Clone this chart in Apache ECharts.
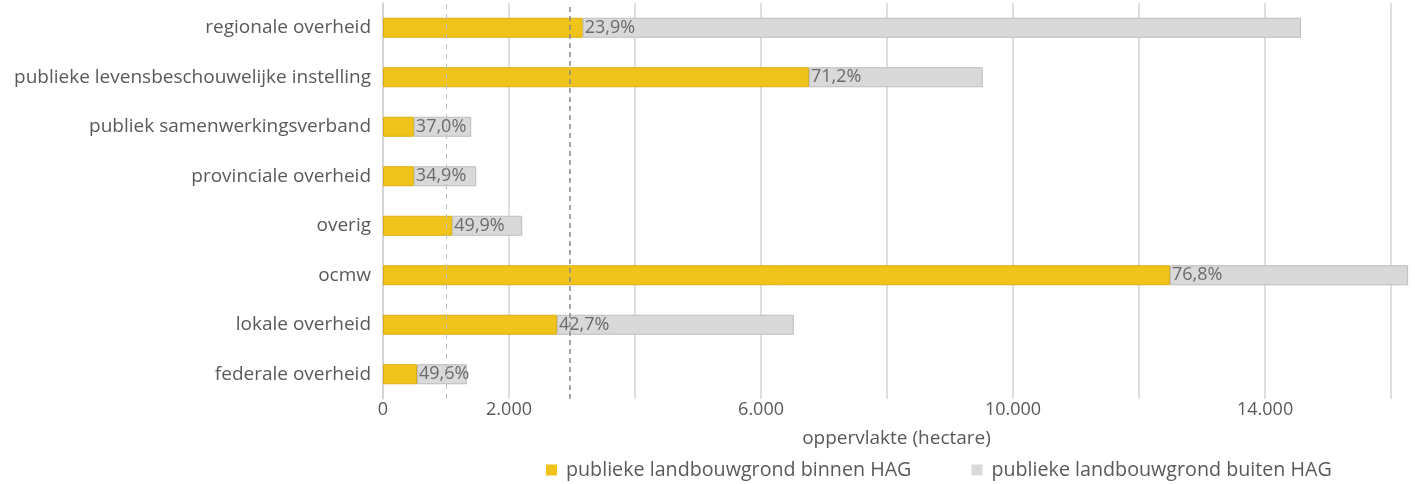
<!DOCTYPE html>
<html><head><meta charset="utf-8">
<script src="https://cdn.jsdelivr.net/npm/echarts@6/dist/echarts.min.js"></script>
<style>html,body{margin:0;padding:0;background:#fff}#c{width:1415px;height:484px}</style>
</head><body><div id="c"></div>
<script>
const categories = ['federale overheid','lokale overheid','ocmw','overig','provinciale overheid','publiek samenwerkingsverband','publieke levensbeschouwelijke instelling','regionale overheid'];
const binnenHAG = [540, 2760, 12490, 1100, 490, 490, 6760, 3170];
const buitenHAG = [790, 3760, 3780, 1110, 990, 910, 2760, 11400];
const pctLabels = ['49,6%','42,7%','76,8%','49,9%','34,9%','37,0%','71,2%','23,9%'];
const xTickValues = [0, 2000, 6000, 10000, 14000];
const xTickLabels = ['0','2.000','6.000','10.000','14.000'];
const refLines = [1000, 2970];
const seriesNames = ['publieke landbouwgrond binnen HAG','publieke landbouwgrond buiten HAG'];

const FONT = 'Open Sans';
const chart = echarts.init(document.getElementById('c'), null, {renderer:'canvas'});
chart.setOption({
  animation:false,
  textStyle:{fontFamily:FONT},
  grid:{left:383, right:5, top:3, height:396, containLabel:false},
  legend:{
    data:seriesNames, left:541, top:455, itemWidth:11, itemHeight:11, itemGap:60,
    icon:'rect', itemStyle:{borderWidth:0},
    textStyle:{fontSize:19.7, color:'#595959', fontFamily:FONT, padding:[0,0,0,4]}
  },
  xAxis:{
    type:'value', min:0, max:16300, interval:2000,
    name:'oppervlakte (hectare)', nameLocation:'middle', nameGap:30,
    nameTextStyle:{fontSize:19, color:'#595959'},
    axisLine:{show:false}, axisTick:{show:false},
    axisLabel:{fontSize:18, color:'#595959', margin:2, showMaxLabel:false,
      formatter:function(v){const i=xTickValues.indexOf(v);return i>=0?xTickLabels[i]:'';}},
    splitLine:{show:true, showMaxLine:false, lineStyle:{color:'#d4d4d4', width:1.5}}
  },
  yAxis:{
    type:'category', data:categories,
    axisLine:{show:true, lineStyle:{color:'#d0d0d0', width:1.5}},
    axisTick:{show:false},
    axisLabel:{fontSize:19, color:'#595959', margin:12}
  },
  series:[
    {name:seriesNames[0], type:'bar', stack:'t', data:binnenHAG, barWidth:20,
     itemStyle:{color:'#EFC319', borderColor:'#D9AE10', borderWidth:1},
     markLine:{symbol:'none', silent:true, label:{show:false},
       data:[
         {xAxis:refLines[0], lineStyle:{color:'#bdbdbd', type:[5,5], width:1}},
         {xAxis:refLines[1], lineStyle:{color:'#8a8a8a', type:[5,4], width:1.5}}
       ]}
    },
    {name:seriesNames[1], type:'bar', stack:'t', data:buitenHAG, barWidth:20,
     itemStyle:{color:'#D9D9D9', borderColor:'#BDBDBD', borderWidth:1},
     label:{show:true, position:'insideLeft', distance:2, fontSize:18, color:'#6b6b6b',
       formatter:function(p){return pctLabels[p.dataIndex];}}
    }
  ]
});
</script></body></html>
